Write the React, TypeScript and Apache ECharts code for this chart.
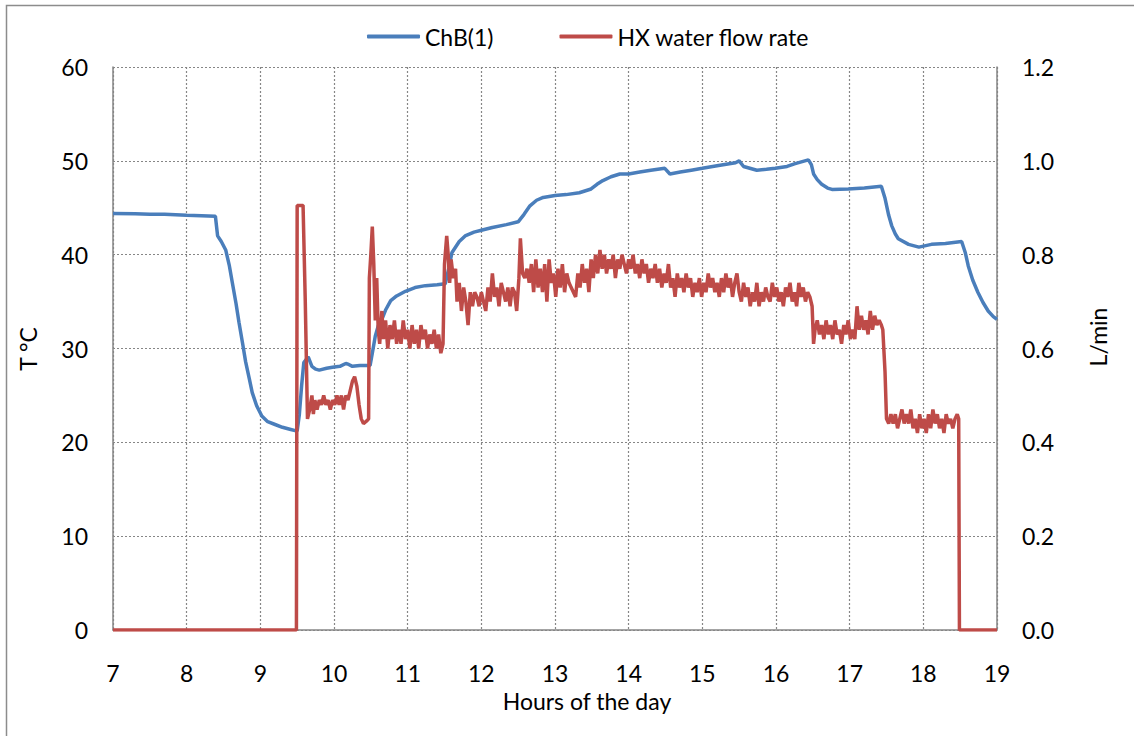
import React, { useEffect, useRef } from "react";
import * as echarts from "echarts";

const seriesNames = ["ChB(1)", "HX water flow rate"];
const xAxisTitle = "Hours of the day";
const leftAxisTitle = "T °C";
const rightAxisTitle = "L/min";

const blueHours = [
  7.0, 7.3, 7.5, 7.7, 8.0, 8.2, 8.39, 8.42, 8.47, 8.53, 8.58, 8.62, 8.67, 8.71, 8.76, 8.8, 8.85, 8.89, 8.95, 9.02,
  9.1, 9.2, 9.3, 9.4, 9.5, 9.53, 9.56, 9.59, 9.65, 9.7, 9.75, 9.8, 9.9, 9.98, 10.08, 10.16, 10.2, 10.25, 10.35, 10.49,
  10.52, 10.56, 10.6, 10.65, 10.7, 10.77, 10.85, 10.97, 11.1, 11.24, 11.4, 11.51, 11.56, 11.6, 11.7, 11.78, 11.9, 12.0,
  12.15, 12.34, 12.5, 12.58, 12.66, 12.75, 12.84, 13.0, 13.15, 13.33, 13.49, 13.57, 13.65, 13.76, 13.88, 14.0, 14.15,
  14.3, 14.49, 14.56, 14.7, 14.85, 15.0, 15.22, 15.45, 15.5, 15.56, 15.74, 15.87, 15.99, 16.15, 16.26, 16.44, 16.48,
  16.51, 16.56, 16.62, 16.7, 16.76, 16.98, 17.2, 17.43, 17.48, 17.53, 17.57, 17.62, 17.66, 17.8, 17.94, 18.11, 18.3,
  18.52, 18.57, 18.61, 18.67, 18.74, 18.81, 18.88, 18.95, 19.0,
];
const blueTemp = [
  44.4, 44.35, 44.3, 44.3, 44.2, 44.15, 44.1, 42.0, 41.4, 40.5, 38.8, 37.0, 34.8, 32.8, 30.5, 28.6, 26.8, 25.3, 23.9, 22.8,
  22.2, 21.9, 21.6, 21.4, 21.2, 23.0, 26.0, 28.5, 29.1, 28.1, 27.8, 27.7, 27.9, 28.0, 28.1, 28.4, 28.3, 28.1, 28.2, 28.2,
  29.5, 31.3, 32.4, 33.1, 34.1, 35.1, 35.6, 36.1, 36.5, 36.7, 36.8, 36.9, 38.6, 40.2, 41.4, 42.0, 42.4, 42.6,
  42.9, 43.2, 43.5, 44.3, 45.2, 45.8, 46.1, 46.3, 46.4, 46.6, 47.0, 47.5, 47.9, 48.3, 48.6, 48.6, 48.8,
  49.0, 49.2, 48.6, 48.8, 49.0, 49.2, 49.5, 49.8, 50.0, 49.4, 49.0, 49.1, 49.2, 49.4, 49.7, 50.1, 49.6,
  48.6, 48.0, 47.5, 47.1, 46.95, 47.0, 47.1, 47.3, 46.0, 44.2, 43.1, 42.2, 41.7, 41.1, 40.8, 41.1, 41.2,
  41.4, 40.2, 38.8, 37.3, 36.0, 34.9, 34.0, 33.4, 33.1,
];

const redHours = [
  7.0, 9.49, 9.5, 9.58, 9.61, 9.64, 9.67, 9.7, 9.72, 9.74, 9.77, 9.8, 9.83, 9.86, 9.89, 9.92, 9.95, 9.98, 10.01, 10.04,
  10.07, 10.1, 10.13, 10.16, 10.19, 10.22, 10.25, 10.28, 10.31, 10.34, 10.37, 10.4, 10.44, 10.47, 10.48, 10.5, 10.52,
  10.54, 10.56, 10.58, 10.6, 10.62, 10.65, 10.67, 10.7, 10.73, 10.76, 10.79, 10.82, 10.85, 10.88, 10.91, 10.94, 10.97,
  11.0, 11.03, 11.06, 11.09, 11.12, 11.15, 11.18, 11.21, 11.24, 11.27, 11.3, 11.33, 11.36, 11.39, 11.42, 11.45, 11.48,
  11.5, 11.53, 11.55, 11.57, 11.59, 11.62, 11.65, 11.67, 11.7, 11.73, 11.76, 11.79, 11.82, 11.85, 11.88, 11.91, 11.94,
  11.97, 12.0, 12.03, 12.06, 12.09, 12.12, 12.15, 12.18, 12.21, 12.24, 12.27, 12.3, 12.33, 12.36, 12.39, 12.42, 12.45,
  12.48, 12.51, 12.53, 12.56, 12.59, 12.62, 12.65, 12.68, 12.71, 12.74, 12.77, 12.8, 12.83, 12.86, 12.89, 12.92, 12.95,
  12.98, 13.01, 13.04, 13.07, 13.1, 13.13, 13.16, 13.19, 13.22, 13.25, 13.28, 13.31, 13.34, 13.37, 13.4, 13.43, 13.46,
  13.49, 13.52, 13.55, 13.58, 13.61, 13.64, 13.67, 13.7, 13.73, 13.76, 13.79, 13.82, 13.85, 13.88, 13.91, 13.94, 13.97,
  14.0, 14.03, 14.06, 14.09, 14.12, 14.15, 14.18, 14.21, 14.24, 14.27, 14.3, 14.33, 14.36, 14.39, 14.42, 14.45, 14.48,
  14.51, 14.54, 14.57, 14.6, 14.63, 14.66, 14.69, 14.72, 14.75, 14.78, 14.81, 14.84, 14.87, 14.9, 14.93, 14.96, 14.99,
  15.02, 15.05, 15.08, 15.11, 15.14, 15.17, 15.2, 15.23, 15.26, 15.29, 15.32, 15.35, 15.38, 15.41, 15.44, 15.47, 15.5,
  15.53, 15.56, 15.59, 15.62, 15.65, 15.68, 15.71, 15.74, 15.77, 15.8, 15.83, 15.86, 15.89, 15.92, 15.95, 15.98, 16.01,
  16.04, 16.07, 16.1, 16.13, 16.16, 16.19, 16.22, 16.25, 16.28, 16.31, 16.34, 16.37, 16.4, 16.43, 16.46, 16.49, 16.51,
  16.53, 16.56, 16.59, 16.62, 16.65, 16.68, 16.71, 16.74, 16.77, 16.8, 16.83, 16.86, 16.89, 16.92, 16.95, 16.98, 17.01,
  17.04, 17.07, 17.1, 17.13, 17.16, 17.19, 17.22, 17.25, 17.28, 17.31, 17.34, 17.37, 17.4, 17.43, 17.45, 17.48, 17.5,
  17.53, 17.56, 17.59, 17.62, 17.65, 17.68, 17.71, 17.74, 17.77, 17.8, 17.83, 17.86, 17.89, 17.92, 17.95, 17.98, 18.01,
  18.04, 18.07, 18.1, 18.13, 18.16, 18.19, 18.22, 18.25, 18.28, 18.31, 18.34, 18.37, 18.4, 18.43, 18.46, 18.48, 18.49,
  19.0,
];
const redFlow = [
  0, 0, 0.905, 0.905, 0.7, 0.45, 0.47, 0.5, 0.46, 0.49, 0.47, 0.49, 0.48, 0.5, 0.48, 0.49, 0.47, 0.49, 0.48, 0.5,
  0.48, 0.5, 0.47, 0.5, 0.49, 0.51, 0.53, 0.54, 0.52, 0.48, 0.45, 0.44, 0.445, 0.45, 0.75, 0.8, 0.86,
  0.78, 0.66, 0.75, 0.64, 0.61, 0.68, 0.62, 0.66, 0.6, 0.65, 0.62, 0.66, 0.61, 0.64, 0.61, 0.66, 0.62,
  0.64, 0.6, 0.65, 0.61, 0.64, 0.6, 0.65, 0.62, 0.64, 0.6, 0.63, 0.61, 0.64, 0.6, 0.63, 0.59, 0.61,
  0.78, 0.84, 0.8, 0.74, 0.79, 0.75, 0.77, 0.7, 0.74, 0.68, 0.73, 0.7, 0.65, 0.72, 0.69, 0.72, 0.71,
  0.69, 0.72, 0.7, 0.68, 0.73, 0.7, 0.76, 0.71, 0.73, 0.69, 0.74, 0.72, 0.7, 0.73, 0.69, 0.73, 0.72,
  0.68, 0.75, 0.835, 0.76, 0.75, 0.77, 0.74, 0.78, 0.72, 0.79, 0.73, 0.77, 0.72, 0.78, 0.7, 0.79, 0.74,
  0.76, 0.71, 0.77, 0.73, 0.78, 0.72, 0.76, 0.74, 0.73, 0.72, 0.71, 0.76, 0.73, 0.78, 0.74, 0.77, 0.72,
  0.79, 0.75, 0.8, 0.76, 0.81, 0.77, 0.8, 0.76, 0.79, 0.77, 0.8, 0.75, 0.79, 0.77, 0.8, 0.78, 0.76,
  0.79, 0.77, 0.8, 0.76, 0.78, 0.75, 0.79, 0.76, 0.78, 0.74, 0.77, 0.75, 0.78, 0.74, 0.77, 0.73, 0.76,
  0.74, 0.78, 0.73, 0.75, 0.71, 0.76, 0.73, 0.75, 0.72, 0.76, 0.73, 0.75, 0.71, 0.74, 0.72, 0.75, 0.71,
  0.74, 0.72, 0.76, 0.73, 0.75, 0.72, 0.74, 0.71, 0.75, 0.72, 0.76, 0.73, 0.75, 0.71, 0.74, 0.76, 0.72,
  0.7, 0.74, 0.71, 0.73, 0.69, 0.72, 0.7, 0.74, 0.69, 0.72, 0.7, 0.73, 0.71, 0.7, 0.74, 0.71, 0.73,
  0.7, 0.72, 0.69, 0.73, 0.71, 0.74, 0.7, 0.72, 0.69, 0.74, 0.71, 0.73, 0.7, 0.72, 0.71, 0.69, 0.61,
  0.64, 0.66, 0.63, 0.65, 0.62, 0.66, 0.63, 0.65, 0.62, 0.66, 0.63, 0.64, 0.61, 0.65, 0.63, 0.66, 0.62,
  0.64, 0.62, 0.69, 0.64, 0.67, 0.64, 0.66, 0.63, 0.68, 0.64, 0.67, 0.65, 0.66, 0.65, 0.64, 0.55, 0.45,
  0.44, 0.46, 0.44, 0.46, 0.43, 0.45, 0.47, 0.44, 0.46, 0.44, 0.47, 0.43, 0.45, 0.42, 0.46, 0.43, 0.45,
  0.42, 0.46, 0.43, 0.47, 0.44, 0.46, 0.43, 0.45, 0.42, 0.46, 0.44, 0.45, 0.43, 0.45, 0.46, 0.45, 0,
  0,
];

const FONT = "Lato, 'Open Sans', sans-serif";
const GRID_COLOR = "#868686";
const BLUE = "#4A7EBB";
const RED = "#BE4B48";

export default function App() {
  const ref = useRef<HTMLDivElement>(null);
  useEffect(() => {
    if (!ref.current) return;
    const chart = echarts.init(ref.current, undefined, { renderer: "svg" });
    const blueData = blueHours.map((h, i) => [h, blueTemp[i]]);
    const redData = redHours.map((h, i) => [h, redFlow[i]]);
    chart.setOption({
      animation: false,
      backgroundColor: "#ffffff",
      textStyle: { fontFamily: FONT },
      grid: { left: 113, right: 137, top: 67, bottom: 106, containLabel: false },
      legend: {
        left: 362,
        top: 20,
        icon: "roundRect",
        itemWidth: 53,
        itemHeight: 4,
        itemGap: 66,
        textStyle: { fontFamily: FONT, fontSize: 23, color: "#000" },
        data: [
          { name: seriesNames[0], itemStyle: { color: BLUE } },
          { name: seriesNames[1], itemStyle: { color: RED } },
        ],
      },
      xAxis: {
        type: "value",
        min: 7,
        max: 19,
        interval: 1,
        axisLine: { show: true, lineStyle: { color: GRID_COLOR, width: 1.5 } },
        axisTick: { show: false },
        axisLabel: { fontFamily: FONT, fontSize: 23, color: "#000", margin: 31, lineHeight: 24 },
        splitLine: { show: true, lineStyle: { color: GRID_COLOR, type: [2, 2], width: 1.2 } },
      },
      yAxis: [
        {
          type: "value",
          min: 0,
          max: 60,
          interval: 10,
          position: "left",
          axisLine: { show: true, lineStyle: { color: GRID_COLOR, width: 1.5 } },
          axisTick: { show: false },
          axisLabel: { fontFamily: FONT, fontSize: 23, color: "#000", margin: 25 },
          splitLine: { show: true, lineStyle: { color: GRID_COLOR, type: [2, 2], width: 1.2 } },
        },
        {
          type: "value",
          min: 0,
          max: 1.2,
          interval: 0.2,
          position: "right",
          axisLine: { show: true, lineStyle: { color: GRID_COLOR, width: 1.5 } },
          axisTick: { show: false },
          axisLabel: {
            fontFamily: FONT,
            fontSize: 23,
            color: "#000",
            margin: 25,
            formatter: (v: number) => v.toFixed(1),
          },
          splitLine: { show: false },
        },
      ],
      series: [
        {
          name: seriesNames[0],
          type: "line",
          yAxisIndex: 0,
          data: blueData,
          symbol: "none",
          smooth: false,
          lineStyle: { color: BLUE, width: 3.5 },
          itemStyle: { color: BLUE },
          z: 2,
        },
        {
          name: seriesNames[1],
          type: "line",
          yAxisIndex: 1,
          data: redData,
          symbol: "none",
          smooth: false,
          lineStyle: { color: RED, width: 3.5 },
          itemStyle: { color: RED },
          z: 3,
        },
      ],
      graphic: [
        {
          type: "rect",
          shape: { x: 6.5, y: 5.5, width: 1200, height: 800 },
          style: { fill: "none", stroke: "#8C8C8C", lineWidth: 1.5 },
          silent: true,
        },
        {
          type: "text",
          x: 587,
          y: 701,
          style: {
            text: xAxisTitle,
            font: `23px ${FONT}`,
            fill: "#000",
            textAlign: "center",
            textVerticalAlign: "middle",
          },
        },
        {
          type: "text",
          x: 28,
          y: 349,
          rotation: Math.PI / 2,
          style: {
            text: leftAxisTitle,
            font: `23px ${FONT}`,
            fill: "#000",
            textAlign: "center",
            textVerticalAlign: "middle",
          },
        },
        {
          type: "text",
          x: 1098,
          y: 337,
          rotation: Math.PI / 2,
          style: {
            text: rightAxisTitle,
            font: `23px ${FONT}`,
            fill: "#000",
            textAlign: "center",
            textVerticalAlign: "middle",
          },
        },
      ],
    });
    return () => chart.dispose();
  }, []);
  return (
    <div
      ref={ref}
      style={{ position: "absolute", left: 0, top: 0, width: 1134, height: 736 }}
    />
  );
}
